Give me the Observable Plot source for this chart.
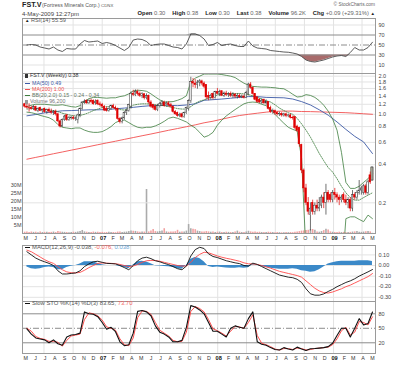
<!DOCTYPE html>
<html><head><meta charset="utf-8">
<script src="https://cdn.jsdelivr.net/npm/d3@7"></script>
<script src="https://cdn.jsdelivr.net/npm/@observablehq/plot@0.6"></script>
<style>
html,body{margin:0;padding:0;background:#fff;}
#chart{position:relative;width:400px;height:365px;overflow:hidden;background:#fff;font-family:"Liberation Sans",Arial,sans-serif;}
.t{position:absolute;white-space:nowrap;line-height:1;}
.b{font-weight:bold;color:#222;}
.v{color:#666;}
.g{display:inline-block;width:7px;}
.ln{display:inline-block;width:5px;height:1px;vertical-align:middle;margin-right:2px;}
</style></head><body><div id="chart"></div><script>
// ---------- data (weekly bars, first bar = week of 1 May 2006) ----------
const open = [1.20,1.15,1.13,1.12,1.10,1.14,1.07,1.12,1.06,1.10,
1.04,1.08,1.05,1.03,1.05,1.00,0.88,0.80,0.90,0.98,
0.90,0.93,0.94,0.92,0.90,0.98,1.10,1.24,1.28,1.22,
1.28,1.28,1.22,1.28,1.20,1.18,1.15,1.10,1.06,1.10,
1.16,1.12,1.10,0.92,0.87,0.93,1.02,1.06,1.15,1.45,
1.42,1.50,1.45,1.40,1.44,1.34,1.40,1.24,1.18,1.15,
1.08,1.16,1.20,1.24,1.16,1.22,1.18,1.15,1.04,1.02,
0.97,1.00,0.95,1.02,1.10,1.27,1.80,1.75,1.70,1.78,
1.82,1.75,1.70,1.40,1.35,1.45,1.34,1.50,1.45,1.52,
1.40,1.46,1.42,1.45,1.40,1.43,1.38,1.40,1.36,1.38,
1.35,1.45,1.72,1.62,1.45,1.36,1.30,1.24,1.30,1.22,
1.25,1.12,1.04,1.06,1.02,1.00,1.01,0.98,1.00,0.97,
0.98,0.94,0.95,0.80,0.78,0.57,0.36,0.26,0.20,0.16,
0.20,0.17,0.19,0.18,0.19,0.22,0.20,0.24,0.23,0.21,
0.24,0.23,0.22,0.21,0.23,0.21,0.20,0.21,0.18,0.23,
0.22,0.24,0.25,0.24,0.27,0.24,0.33,0.30];
const high = [1.22,1.20,1.21,1.16,1.17,1.16,1.12,1.14,1.10,1.12,
1.10,1.12,1.10,1.07,1.08,1.02,0.90,0.92,0.98,1.00,
0.96,0.96,0.97,0.95,1.00,1.12,1.26,1.30,1.30,1.30,
1.32,1.30,1.30,1.30,1.25,1.22,1.17,1.14,1.12,1.18,
1.20,1.16,1.12,0.94,0.95,1.05,1.10,1.20,1.50,1.55,
1.56,1.55,1.50,1.48,1.46,1.45,1.42,1.28,1.20,1.18,
1.20,1.24,1.28,1.27,1.25,1.26,1.22,1.16,1.07,1.04,
1.02,1.02,1.04,1.14,1.30,1.96,1.92,1.88,1.85,1.88,
1.86,1.80,1.72,1.50,1.44,1.47,1.52,1.60,1.55,1.54,
1.50,1.52,1.48,1.50,1.48,1.46,1.45,1.44,1.42,1.42,
1.52,1.76,1.78,1.64,1.46,1.38,1.33,1.32,1.32,1.30,
1.26,1.16,1.10,1.08,1.05,1.04,1.03,1.02,1.02,1.00,
1.00,0.97,0.96,0.82,0.79,0.58,0.37,0.28,0.22,0.20,
0.21,0.20,0.21,0.22,0.23,0.24,0.28,0.25,0.24,0.25,
0.26,0.24,0.23,0.23,0.24,0.23,0.22,0.22,0.25,0.24,
0.25,0.30,0.27,0.28,0.28,0.30,0.35,0.38];
const low = [1.12,1.10,1.04,1.08,1.07,1.05,1.03,1.05,1.02,1.02,
1.00,1.02,1.00,0.98,0.97,0.86,0.78,0.79,0.88,0.88,
0.88,0.90,0.90,0.88,0.84,0.94,1.08,1.20,1.20,1.20,
1.22,1.18,1.18,1.17,1.14,1.12,1.05,1.04,1.04,1.08,
1.10,1.06,0.90,0.84,0.84,0.90,0.98,1.04,1.10,1.38,
1.38,1.40,1.36,1.33,1.30,1.30,1.20,1.12,1.08,1.06,
1.05,1.12,1.15,1.14,1.14,1.14,1.12,1.02,0.98,0.95,
0.94,0.93,0.93,1.00,1.06,1.22,1.62,1.60,1.58,1.65,
1.68,1.60,1.30,1.28,1.30,1.30,1.32,1.42,1.38,1.38,
1.36,1.38,1.36,1.36,1.34,1.33,1.32,1.33,1.33,1.32,
1.33,1.40,1.58,1.42,1.28,1.22,1.22,1.20,1.20,1.18,
1.08,1.02,1.00,0.98,0.97,0.96,0.95,0.95,0.94,0.94,
0.92,0.90,0.76,0.72,0.55,0.34,0.24,0.19,0.16,0.12,
0.16,0.16,0.17,0.17,0.18,0.18,0.16,0.20,0.20,0.20,
0.21,0.20,0.19,0.20,0.20,0.19,0.18,0.17,0.17,0.21,
0.21,0.23,0.23,0.23,0.23,0.23,0.28,0.30];
const close = [1.15,1.13,1.12,1.10,1.14,1.07,1.10,1.06,1.08,1.04,
1.08,1.05,1.03,1.05,1.00,0.88,0.80,0.90,0.96,0.90,
0.93,0.94,0.92,0.93,0.98,1.10,1.24,1.26,1.22,1.28,
1.25,1.20,1.26,1.20,1.18,1.15,1.07,1.06,1.10,1.16,
1.12,1.10,0.92,0.87,0.93,1.02,1.06,1.18,1.45,1.42,
1.50,1.45,1.40,1.44,1.34,1.40,1.24,1.15,1.12,1.08,
1.16,1.20,1.24,1.16,1.22,1.18,1.15,1.04,1.00,0.97,
0.99,0.95,1.02,1.12,1.27,1.80,1.75,1.70,1.78,1.82,
1.75,1.65,1.36,1.35,1.40,1.34,1.50,1.45,1.50,1.40,
1.46,1.42,1.45,1.40,1.43,1.38,1.40,1.36,1.38,1.35,
1.48,1.72,1.62,1.45,1.30,1.25,1.24,1.28,1.22,1.25,
1.10,1.04,1.06,1.02,1.00,1.01,0.98,1.00,0.97,0.98,
0.94,0.93,0.78,0.74,0.58,0.36,0.26,0.20,0.17,0.18,
0.17,0.19,0.18,0.20,0.22,0.20,0.24,0.21,0.21,0.24,
0.23,0.22,0.21,0.22,0.21,0.20,0.21,0.18,0.23,0.22,
0.24,0.25,0.26,0.27,0.24,0.29,0.29,0.38];
// volume in millions of shares
const volume = [0.8,1.0,0.6,0.9,0.7,0.8,0.5,0.9,0.6,0.7,
0.8,0.6,0.7,0.9,0.6,1.2,1.0,0.8,0.7,0.6,
0.5,0.6,0.8,0.7,1.0,1.2,1.9,1.0,0.8,0.7,
0.6,0.9,0.7,0.8,0.6,0.7,0.5,0.6,0.8,0.7,
0.6,0.5,0.9,1.0,0.7,0.8,0.9,1.2,1.5,1.4,
1.3,1.0,0.8,0.9,0.9,27.5,1.0,1.5,2.5,1.2,
1.0,1.2,1.5,3.0,1.0,0.8,0.9,1.0,1.1,2.0,
0.8,1.0,0.9,1.5,5.6,3.0,2.6,2.4,1.5,1.2,
1.0,0.9,1.2,1.0,0.8,0.9,0.7,0.8,0.9,0.7,
0.6,0.8,0.7,0.6,0.7,1.0,1.5,0.8,0.6,0.7,
0.9,1.4,1.0,0.8,0.9,0.7,0.8,0.6,0.7,0.6,
0.8,0.7,0.6,0.5,0.6,0.5,0.4,0.5,0.6,0.5,
0.6,0.5,0.8,0.9,1.2,1.5,1.6,1.8,2.0,2.4,
2.5,2.0,1.0,0.8,1.2,1.8,2.6,2.2,1.0,0.8,
0.7,0.6,0.8,0.6,0.7,0.5,0.6,0.7,0.9,1.0,
1.2,0.8,0.7,0.9,1.1,1.3,1.0,0.1];
// moving averages, every 4th week (weeks 1,5,...,157)
const ma50 = [0.973,0.996,1.027,1.046,1.066,1.07,1.077,1.085,1.085,1.09,
1.105,1.12,1.135,1.155,1.17,1.177,1.177,1.17,1.185,1.21,
1.29,1.305,1.32,1.34,1.36,1.38,1.38,1.36,1.355,1.35,
1.32,1.26,1.185,1.085,0.985,0.87,0.76,0.67,0.605,0.49];
const ma200 = [0.442,0.457,0.472,0.488,0.504,0.521,0.538,0.556,0.575,0.594,
0.613,0.634,0.655,0.677,0.699,0.723,0.748,0.772,0.798,0.825,
0.857,0.882,0.915,0.948,0.978,1.0,1.02,1.04,1.056,1.06,
1.06,1.052,1.05,1.045,1.04,1.035,1.03,1.02,1.01,1.0];
// indicators, every 2nd week (weeks 1,3,...,157)
const bbUpper = [1.15,1.18,1.2,1.2,1.2,1.19,1.18,1.18,1.19,1.17,
1.15,1.14,1.17,1.26,1.33,1.36,1.36,1.35,1.34,1.35,
1.35,1.38,1.4,1.45,1.53,1.55,1.54,1.52,1.45,1.37,
1.3,1.25,1.255,1.26,1.29,1.33,1.4,1.8,1.93,2.0,
2.08,2.08,2.08,2.08,2.06,2.03,2.0,1.95,1.85,1.76,
1.7,1.66,1.65,1.64,1.64,1.63,1.62,1.6,1.59,1.52,
1.44,1.37,1.38,1.43,1.41,1.36,1.28,1.18,1.06,0.92,
0.75,0.5,0.29,0.26,0.26,0.27,0.29,0.31,0.34];
const bbMiddle = [1.1,1.11,1.11,1.1,1.09,1.08,1.07,1.05,1.02,1.0,
0.98,0.97,0.98,1.0,1.03,1.07,1.1,1.13,1.15,1.15,
1.12,1.09,1.08,1.12,1.18,1.2,1.21,1.21,1.2,1.19,
1.18,1.17,1.15,1.13,1.11,1.1,1.1,1.15,1.22,1.27,
1.3,1.34,1.38,1.42,1.45,1.46,1.46,1.46,1.46,1.45,
1.43,1.4,1.36,1.32,1.28,1.25,1.19,1.12,1.07,1.03,
1.0,0.93,0.84,0.75,0.66,0.57,0.49,0.43,0.38,0.35,
0.31,0.27,0.24,0.22,0.21,0.21,0.22,0.23,0.24];
const bbLower = [1.04,1.03,1.01,0.98,0.96,0.94,0.9,0.83,0.79,0.78,
0.77,0.78,0.78,0.75,0.73,0.72,0.72,0.73,0.76,0.8,
0.86,0.89,0.9,0.86,0.82,0.79,0.78,0.79,0.79,0.81,
0.84,0.88,0.93,0.95,0.93,0.9,0.87,0.82,0.78,0.72,
0.66,0.68,0.72,0.82,0.9,0.97,1.03,1.09,1.15,1.21,
1.24,1.25,1.24,1.2,1.17,1.1,1.0,0.92,0.85,0.79,
0.76,0.74,0.45,0.08,0.05,0.05,0.05,0.05,0.05,0.05,
0.05,0.05,0.15,0.155,0.155,0.148,0.142,0.16,0.15];
const rsi = [50,51,50,46,44,42,46,40,37,43,
42,42,52,59,56,57,58,53,55,53,
49,44,39,45,60,62,61,57,49,51,
52,52,49,46,45,42,52,72,72,69,
62,49,51,55,49,51,52,49,47,47,
58,48,44,43,42,39,38,37,36,35.5,
34,32,27,20,17,16,18,20,23,26,
28,29,27,35,45,40,40,45,55.59];
const macd = [0.13,0.1,0.07,0.05,0.035,0.02,0.0,-0.05,-0.08,-0.08,
-0.075,-0.07,-0.05,-0.01,0.015,0.035,0.04,0.03,0.02,0.018,
0.015,0.0,-0.02,-0.04,0.0,0.045,0.07,0.078,0.065,0.045,
0.035,0.02,0.008,-0.01,-0.03,-0.04,-0.005,0.09,0.15,0.172,
0.16,0.11,0.085,0.075,0.06,0.045,0.035,0.025,0.018,0.0,
-0.005,0.022,0.01,-0.01,-0.03,-0.05,-0.07,-0.09,-0.1,-0.11,
-0.115,-0.13,-0.16,-0.22,-0.267,-0.28,-0.28,-0.268,-0.245,-0.225,
-0.2,-0.18,-0.16,-0.145,-0.125,-0.1,-0.08,-0.06,-0.038];
const signal = [0.145,0.13,0.105,0.08,0.055,0.035,0.02,-0.01,-0.04,-0.06,
-0.068,-0.07,-0.065,-0.045,-0.02,0.0,0.02,0.024,0.022,0.02,
0.017,0.01,0.0,-0.01,-0.005,0.01,0.03,0.045,0.048,0.047,
0.04,0.03,0.02,0.01,0.0,-0.005,-0.005,0.03,0.075,0.105,
0.125,0.12,0.105,0.09,0.078,0.068,0.06,0.05,0.04,0.025,
0.016,0.015,0.01,0.0,-0.012,-0.025,-0.04,-0.055,-0.065,-0.075,
-0.085,-0.095,-0.11,-0.145,-0.18,-0.215,-0.24,-0.255,-0.26,-0.25,
-0.235,-0.22,-0.2,-0.185,-0.165,-0.145,-0.125,-0.105,-0.076];
const hist = [-0.015,-0.03,-0.035,-0.03,-0.02,-0.015,-0.02,-0.04,-0.04,-0.02,
-0.007,0.0,0.015,0.035,0.035,0.035,0.02,0.006,0.0,0.0,
0.0,-0.01,-0.02,-0.03,0.005,0.035,0.04,0.033,0.017,-0.002,
-0.005,-0.01,-0.012,-0.02,-0.03,-0.035,0.0,0.06,0.075,0.067,
0.035,-0.01,-0.02,-0.015,-0.018,-0.023,-0.025,-0.025,-0.022,-0.025,
-0.021,0.007,0.0,-0.01,-0.018,-0.025,-0.03,-0.035,-0.035,-0.035,
-0.03,-0.035,-0.05,-0.055,-0.063,-0.06,-0.04,-0.013,0.015,0.025,
0.035,0.04,0.04,0.04,0.04,0.045,0.045,0.045,0.038];
const stoK = [49,38,30,28,26,20,26,18,15,32,
36,37,40,84,80,79,74,62,48,52,
43,22,14,16,40,85,87,84,76,55,
42,38,32,22,22,25,52,97,94,88,
80,62,44,44,38,32,50,55,52,50,
70,84,22,17,15,10,6,5,10,7,
5,11,7,4,7.5,8,9,10,12,19,
35,50,50,32,50,70,57,60,83.65];
const stoD = [50,44,33,29,27,23,23,21,13,25,
34,36,38,68,82,80,76,67,53,50,
46,28,16,14,30,72,86,85,79,62,
46,40,34,25,22,23,42,85,95,91,
84,68,49,45,40,34,44,54,53,50,
62,78,35,19,16,12,7,5,8,8,
6,9,8,5,6,8,9,10,11,16,
28,45,52,36,42,64,62,57,73.7];
// tick labels
const monthLabels = ["M","J","J","A","S","O","N","D","07","F","M","A","M","J","J","A","S","O","N","D","08","F","M","A","M","J","J","A","S","O","N","D","09","F","M","A","M"];
const priceTicks = [0.2,0.4,0.6,0.8,1.0,1.2,1.4,1.6,1.8,2.0];
const volTicks = [5,10,15,20,25,30];
const rsiTicks = [10,30,50,70,90];
const macdTicks = [0.1,0,-0.1,-0.2,-0.3];
const stoTicks = [20,50,80];

// ---------- build ----------
const weeks = d3.utcMonday.range(new Date(Date.UTC(2006,4,1)), new Date(Date.UTC(2009,4,5)));
const bi = weeks.filter((d,i)=>i%2===1);
const q4 = weeks.filter((d,i)=>i%4===1);
const months = d3.utcMonth.range(new Date(Date.UTC(2006,4,1)), new Date(Date.UTC(2009,5,1)));
const labelOf = new Map(months.map((d,i)=>[+d, monthLabels[i]]));
const quarters = months.filter(d=>d.getUTCMonth()%3===0);
const bars = weeks.map((date,i)=>({date,o:open[i],h:high[i],l:low[i],c:close[i],v:volume[i],up:close[i]>=open[i]}));
const ind = bi.map((date,i)=>({date,bbU:bbUpper[i],bbM:bbMiddle[i],bbL:bbLower[i],rsi:rsi[i],macd:macd[i],sig:signal[i],hist:hist[i],k:stoK[i],d:stoD[i]}));
const mas = q4.map((date,i)=>({date,ma50:ma50[i],ma200:ma200[i]}));
const DAY = 864e5, half = 2.5*DAY;
const XS = {type:"utc", domain:[new Date(Date.UTC(2006,3,24,3)), new Date(Date.UTC(2009,4,13,14))], axis:null};
const GRID = "#e3e3e3", FRAME = "#9a9a9a", LVL = "#8c8c8c", AX = "#444";
const root = document.getElementById("chart");

function panel(top, h, mb, y, marks){
  const svg = Plot.plot({width:400, height:h+mb, marginLeft:22, marginRight:25, marginTop:0, marginBottom:mb,
    x:XS, y:{...y, axis:null},
    style:{background:"transparent", fontFamily:"Liberation Sans, Arial, sans-serif", fontSize:"5.5px", color:AX, overflow:"visible"},
    marks});
  svg.style.position="absolute"; svg.style.left="0px"; svg.style.top=top+"px";
  root.appendChild(svg);
}
const yLabels = (ticks, fmt) => Plot.text(ticks, {y:d=>d, text:fmt, frameAnchor:"right", dx:3, textAnchor:"start", fill:AX, fontSize:5.5});
const monthMarks = () => [
  Plot.text(months.filter(d=>d.getUTCMonth()!==0), {x:d=>d, text:d=>labelOf.get(+d), frameAnchor:"bottom", dy:6, dx:1, fill:"#333", fontSize:5.3}),
  Plot.text(months.filter(d=>d.getUTCMonth()===0), {x:d=>d, text:d=>labelOf.get(+d), frameAnchor:"bottom", dy:6, dx:1, fill:"#111", fontSize:5.6, fontWeight:"bold"})
];

// RSI
panel(18, 55, 0, {domain:[-7,103]}, [
  Plot.ruleX(quarters, {stroke:GRID}),
  Plot.ruleY([10,90], {stroke:GRID}),
  Plot.areaY(ind, {x:"date", y1:30, y2:d=>Math.min(d.rsi,30), fill:"#a96b6b"}),
  Plot.areaY(ind, {x:"date", y1:70, y2:d=>Math.max(d.rsi,70), fill:"#8a8a8a"}),
  Plot.ruleY([30,70], {stroke:LVL}),
  Plot.ruleY([50], {stroke:LVL, strokeDasharray:"6,2,1,2"}),
  Plot.line(ind, {x:"date", y:"rsi", stroke:"#333", strokeWidth:0.8}),
  Plot.frame({stroke:FRAME}),
  yLabels(rsiTicks, d=>String(d))
]);
// volume (underneath price)
panel(73, 160, 0, {domain:[0,100]}, [
  Plot.ruleX(quarters, {stroke:GRID}),
  Plot.ruleX(bars, {x:"date", y1:0, y2:"v", stroke:d=>d.up?"#ababab":"#f2a2a2", strokeWidth:1.6}),
  Plot.text(volTicks, {y:d=>d, text:d=>d+"M", frameAnchor:"left", dx:-1, textAnchor:"end", fill:AX, fontSize:5.5})
]);
// price
panel(73, 160, 13, {type:"log", domain:[0.1145, 2.1]}, [
  Plot.ruleY(priceTicks, {stroke:GRID}),
  Plot.line(mas, {x:"date", y:"ma200", stroke:"#f24f4f", strokeWidth:0.9}),
  Plot.line(mas, {x:"date", y:"ma50", stroke:"#3d5aa6", strokeWidth:0.9}),
  Plot.line(ind, {x:"date", y:"bbU", stroke:"#3e7d3e", strokeWidth:0.8, clip:true}),
  Plot.line(ind, {x:"date", y:"bbL", stroke:"#3e7d3e", strokeWidth:0.8, clip:true}),
  Plot.line(ind, {x:"date", y:"bbM", stroke:"#3e7d3e", strokeWidth:0.8, strokeDasharray:"1.2,1.2", clip:true}),
  Plot.rect([bars[bars.length-1]], {x1:d=>new Date(+d.date-3.4*DAY), x2:d=>new Date(+d.date+3.4*DAY), y1:"l", y2:"h", fill:"#ffff30", stroke:"#222", strokeWidth:0.6}),
  Plot.ruleX(bars, {x:"date", y1:"l", y2:"h", stroke:d=>d.up?"#333":"#e00000", strokeWidth:0.7}),
  Plot.rect(bars, {x1:d=>new Date(+d.date-half), x2:d=>new Date(+d.date+half), y1:"o", y2:"c", fill:d=>d.up?"#fff":"#e00000", stroke:d=>d.up?"#333":"#e00000", strokeWidth:0.5}),
  Plot.frame({stroke:FRAME}),
  yLabels(priceTicks, d=>d.toFixed(1)),
  ...monthMarks()
]);
// MACD
panel(245, 56, 0, {domain:[-0.3396, 0.1887]}, [
  Plot.ruleX(quarters, {stroke:GRID}),
  Plot.ruleY(macdTicks, {stroke:GRID}),
  Plot.areaY(ind, {x:"date", y:"hist", fill:"#3b89c8"}),
  Plot.line(ind, {x:"date", y:"sig", stroke:"#ff4a4a", strokeWidth:0.9}),
  Plot.line(ind, {x:"date", y:"macd", stroke:"#111", strokeWidth:0.9}),
  Plot.frame({stroke:FRAME}),
  yLabels(macdTicks, d=>d.toFixed(2))
]);
// Slow stochastic
panel(301, 52, 12, {domain:[-2.2, 105.5]}, [
  Plot.ruleX(quarters, {stroke:GRID}),
  Plot.ruleY([20,80], {stroke:LVL}),
  Plot.ruleY([50], {stroke:LVL, strokeDasharray:"6,2,1,2"}),
  Plot.line(ind, {x:"date", y:"d", stroke:"#ff3b3b", strokeWidth:0.9}),
  Plot.line(ind, {x:"date", y:"k", stroke:"#111", strokeWidth:1.1}),
  Plot.frame({stroke:FRAME}),
  yLabels(stoTicks, d=>String(d)),
  ...monthMarks()
]);

// ---------- texts ----------
function txt(x, yc, size, html, color, extra){
  const el = document.createElement("div");
  el.className = "t";
  el.style.left = x+"px"; el.style.top = (yc-0.49*size)+"px";
  el.style.fontSize = size+"px"; el.style.color = color; el.innerHTML = html;
  if (extra) Object.assign(el.style, extra);
  root.appendChild(el); return el;
}
txt(22, 5, 7.2, "FST.V", "#222", {fontWeight:"bold"});
txt(42, 5.3, 5.2, "(Fortress Minerals Corp.) <span style='font-size:4.3px'>CDNX</span>", "#555");
txt(22, 14, 6, "4-May-2009 12:27pm", "#444");
const sc = txt(0, 5, 4.8, "© StockCharts.com", "#666"); sc.style.left = "auto"; sc.style.right = "25px";
const hdr = txt(0, 14, 5.8,
  "<span class='b'>Open</span> <span class='v'>0.30</span><span class='g'></span>" +
  "<span class='b'>High</span> <span class='v'>0.38</span><span class='g'></span>" +
  "<span class='b'>Low</span> <span class='v'>0.30</span><span class='g'></span>" +
  "<span class='b'>Last</span> <span class='v'>0.38</span><span class='g'></span>" +
  "<span class='b'>Volume</span> <span class='v'>96.2K</span><span class='g'></span>" +
  "<span class='b'>Chg</span> <span class='v'>+0.09 (+29.31%)</span> <span style='font-size:4.5px'>▲</span>", "#222");
hdr.style.left = "auto"; hdr.style.right = "25px";
// RSI legend
txt(25, 21, 5.6, "<span style='font-size:4.5px;color:#222'>▲</span> RSI(14) 55.59", "#555");
// price legend
const ic = c => `<span class='ln' style='background:${c}'></span>`;
txt(25, 75.7, 5.3, "<span style='display:inline-block;width:3px;height:4px;background:#333;margin-right:2px;vertical-align:middle'></span>FST.V (Weekly) 0.38", "#333");
txt(25, 83.7, 5.3, ic("#3d5aa6")+"MA(50) 0.49", "#3d5aa6");
txt(25, 89.7, 5.3, ic("#f24f4f")+"MA(200) 1.00", "#f24f4f");
txt(25, 95.7, 5.3, ic("#3e7d3e")+"BB(20,2.0) 0.15 - 0.24 - 0.34", "#667766");
txt(25, 101.7, 5.3, "<span style='display:inline-block;width:3px;height:4px;background:#999;margin-right:2px;vertical-align:middle'></span>Volume 96,200", "#777");
// MACD legend
txt(25, 248, 5.9, ic("#111")+"MACD(12,26,9) -0.038, <span style='color:#f26060'>-0.076,</span> <span style='color:#6aa6d6'>0.038</span>", "#555");
// STO legend
txt(25, 304, 5.9, ic("#111")+"Slow STO %K(14) %D(3) 83.65, <span style='color:#f26060'>73.70</span>", "#555");
</script></body></html>
